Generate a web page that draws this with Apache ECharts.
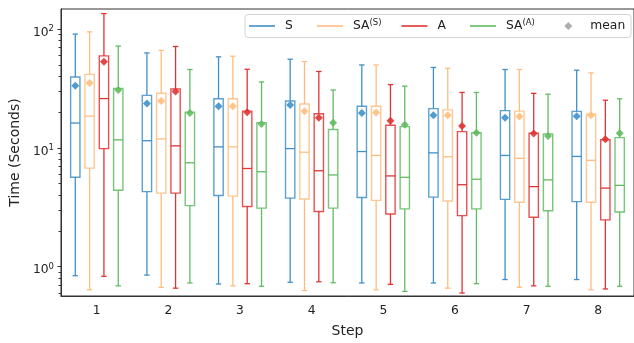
<!DOCTYPE html>
<html><head><meta charset="utf-8">
<script src="https://cdn.jsdelivr.net/npm/echarts@6/dist/echarts.min.js"></script>
<style>html,body{margin:0;padding:0;background:#fff}#c{width:634px;height:343px}</style>
</head><body><div id="c"></div>
<script>
// Steps (x categories)
const steps = ['1', '2', '3', '4', '5', '6', '7', '8'];
// Five-number summaries per step: [whisker low, Q1, median, Q3, whisker high]
const sBoxes = [[0.84, 5.66, 16.2, 39.5, 90.8], [0.85, 4.29, 11.5, 27.7, 63], [0.715, 3.98, 10.2, 25.9, 58.4], [0.74, 3.78, 9.87, 24.8, 55.8], [0.73, 3.83, 9.32, 22.4, 49.9], [0.73, 3.85, 9.08, 21.4, 47.5], [0.78, 3.69, 8.64, 20.6, 45.7], [0.78, 3.53, 8.48, 20.3, 45.1]];
const sMeans = [33.3, 23.6, 22.4, 23.0, 19.7, 18.8, 17.9, 18.5];
const saSBoxes = [[0.64, 6.76, 18.5, 41.6, 94.8], [0.67, 4.16, 11.9, 28.8, 66.2], [0.69, 3.93, 10.2, 25.9, 59.1], [0.63, 3.71, 9.2, 23.4, 53.2], [0.64, 3.62, 8.64, 22.4, 49.9], [0.66, 3.57, 8.42, 20.9, 46.8], [0.67, 3.49, 8.17, 20.4, 45.7], [0.64, 3.49, 7.86, 19.2, 42.8]];
const saSMeans = [35.1, 24.8, 22.4, 20.3, 19.9, 18.8, 18.4, 18.8];
const aBoxes = [[0.83, 9.87, 26.0, 59.5, 135], [0.66, 4.16, 10.4, 31.3, 71.4], [0.72, 3.21, 6.71, 20.4, 45.9], [0.747, 2.92, 6.42, 19.4, 44], [0.71, 2.78, 5.81, 15.5, 34.1], [0.60, 2.69, 4.9, 13.7, 29.3], [0.69, 2.61, 4.72, 13.3, 28.8], [0.65, 2.48, 4.59, 11.7, 25.2]];
const aMeans = [53.2, 29.9, 20.0, 17.9, 16.9, 15.3, 13.2, 11.8];
const saABoxes = [[0.69, 4.40, 11.7, 31.7, 72], [0.73, 3.27, 7.5, 20.0, 45.7], [0.685, 3.11, 6.30, 16.3, 35.9], [0.733, 3.11, 5.92, 14.3, 30.7], [0.62, 3.07, 5.66, 15.1, 33.1], [0.72, 3.07, 5.45, 13.4, 29.3], [0.685, 2.96, 5.38, 13.1, 28.3], [0.685, 2.89, 4.84, 12.2, 25.9]];
const saAMeans = [30.7, 19.7, 15.9, 16.3, 15.7, 13.4, 12.6, 13.3];
// Y tick labels (log axis)
const yMajorTicks = [1, 10, 100];
const yMinorTicks = [0.6, 0.7, 0.8, 0.9, 2, 3, 4, 5, 6, 7, 8, 9, 20, 30, 40, 50, 60, 70, 80, 90];

const seriesDefs = [
  { name: 'S', boxes: sBoxes, means: sMeans, color: '#3f90c8', offset: -0.3 },
  { name: 'SA(S)', boxes: saSBoxes, means: saSMeans, color: '#ffbd80', offset: -0.1 },
  { name: 'A', boxes: aBoxes, means: aMeans, color: '#e03434', offset: 0.1 },
  { name: 'SA(A)', boxes: saABoxes, means: saAMeans, color: '#62bb62', offset: 0.3 }
];

function bandOf(api) {
  return api.coord([1, 1])[0] - api.coord([0, 1])[0];
}

function makeRender(def) {
  return function (params, api) {
    const idx = api.value(0);
    const band = bandOf(api);
    const cx = api.coord([idx, 1])[0] + def.offset * band;
    const y = k => api.coord([idx, api.value(k)])[1];
    const yMin = y(1), yQ1 = y(2), yMed = y(3), yQ3 = y(4), yMax = y(5), yMean = y(6);
    const bw = band * 0.13, cw = band * 0.075, d = 4;
    const ls = { stroke: def.color, lineWidth: 1.3 };
    return {
      type: 'group',
      children: [
        { type: 'line', shape: { x1: cx, y1: yQ1, x2: cx, y2: yMin }, style: ls },
        { type: 'line', shape: { x1: cx, y1: yQ3, x2: cx, y2: yMax }, style: ls },
        { type: 'line', shape: { x1: cx - cw / 2, y1: yMin, x2: cx + cw / 2, y2: yMin }, style: ls },
        { type: 'line', shape: { x1: cx - cw / 2, y1: yMax, x2: cx + cw / 2, y2: yMax }, style: ls },
        { type: 'rect', shape: { x: cx - bw / 2, y: yQ3, width: bw, height: yQ1 - yQ3 }, style: { fill: 'transparent', stroke: def.color, lineWidth: 1.4, opacity: 0.85 } },
        { type: 'line', shape: { x1: cx - bw / 2, y1: yMed, x2: cx + bw / 2, y2: yMed }, style: ls },
        { type: 'polygon', shape: { points: [[cx, yMean - d], [cx + d, yMean], [cx, yMean + d], [cx - d, yMean]] }, style: { fill: def.color, opacity: 0.9 } }
      ]
    };
  };
}

const series = seriesDefs.map(def => ({
  name: def.name,
  type: 'custom',
  renderItem: makeRender(def),
  itemStyle: { color: def.color },
  encode: { x: 0, y: [1, 2, 3, 4, 5, 6] },
  data: def.boxes.map((b, i) => [i, b[0], b[1], b[2], b[3], b[4], def.means[i]]),
  z: 2
}));
series.push({ name: 'mean', type: 'scatter', data: [], symbol: 'diamond', itemStyle: { color: '#999999' } });

const richSup = { sup: { fontSize: 8.5, verticalAlign: 'top', lineHeight: 10, fontFamily: 'DejaVu Sans', color: '#222' } };
function supName(n) {
  const m = n.match(/^(.*)\((.)\)$/);
  return m ? m[1] + '{sup|(' + m[2] + ')}' : n;
}
const legendLefts = [249, 317, 401.5, 470, 564.3];
const legendNames = ['S', 'SA(S)', 'A', 'SA(A)', 'mean'];
const legends = legendNames.map((n, i) => ({
  left: legendLefts[i], top: 18, padding: 0,
  itemWidth: i < 4 ? 26 : 8, itemHeight: i < 4 ? 1.6 : 8,
  selectedMode: false,
  data: [{ name: n, icon: i < 4 ? 'rect' : 'diamond', itemStyle: { color: i < 4 ? seriesDefs[i].color : '#999999' } }],
  formatter: supName,
  textStyle: { fontSize: 12.3, fontFamily: 'DejaVu Sans', color: '#222', lineHeight: 16, padding: [0, 0, 0, i < 4 ? 5 : 13], rich: richSup }
}));

const chart = echarts.init(document.getElementById('c'), null, { renderer: 'canvas' });
chart.setOption({
  animation: false,
  textStyle: { fontFamily: 'DejaVu Sans' },
  grid: { left: 60, top: 9, width: 578, height: 294, show: true, borderColor: '#333', borderWidth: 1, containLabel: false },
  graphic: [{ type: 'rect', shape: { x: 245, y: 14.5, width: 386, height: 23, r: 3 }, style: { fill: 'rgba(255,255,255,0.8)', stroke: '#d4d4d4', lineWidth: 1 }, z: 3 }],
  legend: legends,
  xAxis: {
    type: 'category', data: steps, boundaryGap: true,
    name: 'Step', nameLocation: 'middle', nameGap: 28,
    nameTextStyle: { fontSize: 14, color: '#222', fontFamily: 'DejaVu Sans' },
    axisLine: { lineStyle: { color: '#333', width: 1 } },
    axisTick: { alignWithLabel: true, length: 3.5, lineStyle: { color: '#333' } },
    axisLabel: { fontSize: 12.3, color: '#222', margin: 9, fontFamily: 'DejaVu Sans' },
    splitLine: { show: false }
  },
  yAxis: [{
    type: 'log', logBase: 10, min: 0.567, max: 147.6,
    name: 'Time (Seconds)', nameLocation: 'middle', nameGap: 38, nameRotate: 90,
    nameTextStyle: { fontSize: 14, color: '#222', fontFamily: 'DejaVu Sans' },
    axisLine: { show: true, lineStyle: { color: '#333', width: 1 } },
    axisTick: { show: true, length: 3.5, lineStyle: { color: '#333' }, customValues: yMajorTicks },
    axisLabel: {
      customValues: yMajorTicks, fontSize: 12.3, color: '#222', margin: 7, lineHeight: 16, fontFamily: 'DejaVu Sans',
      padding: [7, 0, 0, 0],
      formatter: v => '10{sup|' + Math.round(Math.log10(v)) + '}', rich: richSup
    },
    splitLine: { show: false }
  }, {
    type: 'log', logBase: 10, min: 0.567, max: 147.6, position: 'left', offset: 0,
    axisLine: { show: true, lineStyle: { color: '#333', width: 1 } },
    axisTick: { show: true, length: 2.4, lineStyle: { color: '#333', width: 1 }, customValues: yMinorTicks },
    axisLabel: { show: false },
    splitLine: { show: false }
  }],
  series: series
});
</script>
</body></html>
